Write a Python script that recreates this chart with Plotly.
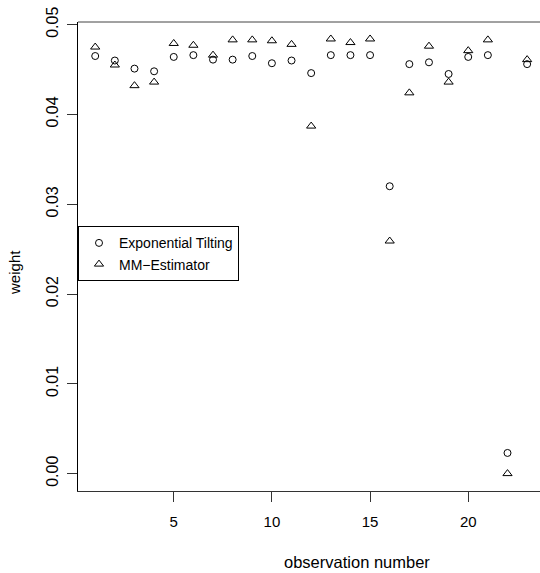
import plotly.graph_objects as go

obs = list(range(1, 24))
exp_tilting = [0.0465, 0.0460, 0.0451, 0.0448, 0.0464, 0.0466, 0.0461, 0.0461, 0.0465, 0.0457,
               0.0460, 0.0446, 0.0466, 0.0466, 0.0466, 0.0320, 0.0456, 0.0458, 0.0445, 0.0464,
               0.0466, 0.0023, 0.0456]
mm_estimator = [0.0475, 0.0455, 0.0432, 0.0436, 0.0479, 0.0477, 0.0466, 0.0483, 0.0483, 0.0482,
                0.0478, 0.0387, 0.0484, 0.0480, 0.0484, 0.0259, 0.0424, 0.0476, 0.0436, 0.0471,
                0.0483, 0.0000, 0.0461]
x_ticks = [5, 10, 15, 20]
y_ticks = [0.00, 0.01, 0.02, 0.03, 0.04, 0.05]
y_ticktext = ["0.00", "0.01", "0.02", "0.03", "0.04", "0.05"]

FONT = "Liberation Sans, Arial, sans-serif"
W, H = 540, 573
L, R, T, B = 78.3, 0, 21.7, 82.3
pw, ph = W - L - R, H - T - B

fig = go.Figure()
fig.add_trace(go.Scatter(x=obs, y=exp_tilting, mode="markers", name="Exponential Tilting",
                         marker=dict(symbol="circle-open", size=7, color="black",
                                     line=dict(width=1, color="black"))))
fig.add_trace(go.Scatter(x=obs, y=mm_estimator, mode="markers", name="MM\u2212Estimator",
                         marker=dict(symbol="triangle-up-open", size=8, color="black",
                                     line=dict(width=1, color="black"))))

fig.update_layout(
    width=W, height=H,
    margin=dict(l=L, r=R, t=T, b=B, pad=0),
    paper_bgcolor="white", plot_bgcolor="white",
    font=dict(family=FONT, size=14, color="black"),
    showlegend=True,
    legend=dict(x=0, xanchor="left", y=(H - B - 226) / ph, yanchor="top",
                bgcolor="white", bordercolor="black", borderwidth=1,
                font=dict(family=FONT, size=14, color="black"),
                itemwidth=30, tracegroupgap=0),
    xaxis=dict(range=[0.1234, 0.1234 + pw / 19.62], tickvals=x_ticks, ticks="outside",
               ticklen=10, tickcolor="#333", tickwidth=1, showline=True, linecolor="#333",
               linewidth=1, showgrid=False, zeroline=False, mirror=False,
               ticklabelstandoff=7,
               tickfont=dict(family=FONT, size=15, color="black")),
    yaxis=dict(range=[-0.001938, 0.05029], tickvals=y_ticks, ticktext=y_ticktext,
               ticks="outside", ticklen=10, tickcolor="#333", tickwidth=1, showline=True,
               linecolor="black", linewidth=1, showgrid=False, zeroline=False,
               ticklabelstandoff=3,
               tickangle=-90, tickfont=dict(family=FONT, size=16, color="black")),
    shapes=[dict(type="line", xref="paper", yref="paper", x0=0, x1=1, y0=1, y1=1,
                 line=dict(color="#444", width=1))],
    annotations=[
        dict(text="observation number", xref="paper", yref="paper",
             x=(356.7 - L) / pw, y=(H - B - 562) / ph, xanchor="center", yanchor="middle",
             showarrow=False, font=dict(family=FONT, size=16.5, color="black")),
        dict(text="weight", xref="paper", yref="paper", textangle=-90,
             x=(15 - L) / pw, y=(H - B - 272) / ph, xanchor="center", yanchor="middle",
             showarrow=False, font=dict(family=FONT, size=15, color="black")),
    ],
)

fig.write_html("out.html", config={"displayModeBar": False},
               post_script="document.body.style.margin='0';document.body.style.overflow='hidden';")
